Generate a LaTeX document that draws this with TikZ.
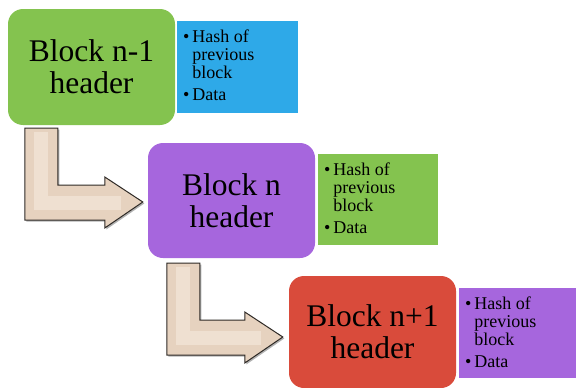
\documentclass[tikz,border=0pt]{standalone}
\usepackage{fontspec}
\setmainfont{Liberation Serif}
\usetikzlibrary{calc}
\definecolor{cgreen}{HTML}{84C34F}
\definecolor{cblue}{HTML}{2EA9E8}
\definecolor{cpurple}{HTML}{A666DD}
\definecolor{cred}{HTML}{D94B3B}
\definecolor{cbeige}{HTML}{E6D2BF}
\definecolor{clight}{HTML}{F3E6D9}
\definecolor{cedge}{HTML}{2E2A26}
\newcommand{\infotext}{\textbullet\,Hash of\\\phantom{\textbullet\,}previous\\\phantom{\textbullet\,}block\\[4pt]\textbullet\,Data}
\tikzset{
  blockbox/.style={rectangle, rounded corners=15pt, minimum width=167pt, inner sep=0pt,
    font=\fontsize{31.5}{32}\selectfont, align=center, text=black},
  infobox/.style={rectangle, inner sep=0pt},
  infotxt/.style={anchor=north west, inner sep=0pt, align=left,
    font=\fontsize{18}{18}\selectfont, text=black},
  arrowshape/.style={fill=cbeige, draw=cedge, line width=1pt, line join=miter},
  arrowlight/.style={draw=clight, line width=14pt, line join=miter, opacity=0.7},
  arrowshadow/.style={fill=black!30, draw=none}
}
\begin{document}
\begin{tikzpicture}[x=1pt,y=-1pt]
\useasboundingbox (0,0) rectangle (576,388);
% blocks
\node[blockbox, fill=cgreen, minimum height=116pt] (b1) at (91.5,67) {Block n-1\\header};
\node[infobox, fill=cblue, minimum width=121pt, minimum height=92pt] (i1) at (237.5,67) {};
\node[blockbox, fill=cpurple, minimum height=115pt] (b2) at (231.5,200.5) {Block n\\header};
\node[infobox, fill=cgreen, minimum width=120pt, minimum height=91pt] (i2) at (378,199.5) {};
\node[blockbox, fill=cred, minimum height=112pt] (b3) at (372.5,332) {Block n+1\\header};
\node[infobox, fill=cpurple, minimum width=117pt, minimum height=90pt] (i3) at (517.5,333) {};
% info texts
\node[infotxt] (t1) at ($(i1.north west)+(6,9)$) {\infotext};
\node[infotxt] (t2) at ($(i2.north west)+(6,9)$) {\infotext};
\node[infotxt] (t3) at ($(i3.north west)+(6,9)$) {\infotext};
% arrow anchors
\coordinate (a1s) at ($(b1.south west)+(17,3)$);
\coordinate (a1t) at ($(b2.west)+(-5,1.5)$);
\coordinate (a2s) at ($(b2.south west)+(19,5)$);
\coordinate (a2t) at ($(b3.west)+(-6,5)$);
% arrows
\foreach \s/\t in {a1s/a1t, a2s/a2t}{
  \fill[arrowshadow] let \p1=(\s), \p2=(\t) in
    (\x1+1.5pt,\y1-1.5pt) -- (\x1+34.5pt,\y1-1.5pt) -- (\x1+34.5pt,\y2+15.5pt) -- (\x2-36.5pt,\y2+15.5pt)
    -- (\x2-36.5pt,\y2+23.5pt) -- (\x2+1.5pt,\y2-1.5pt) -- (\x2-36.5pt,\y2-27.5pt) -- (\x2-36.5pt,\y2-19.5pt)
    -- (\x1+1.5pt,\y2-19.5pt) -- cycle;
  \draw[arrowshape] let \p1=(\s), \p2=(\t) in
    (\x1,\y1) -- (\x1+33pt,\y1) -- (\x1+33pt,\y2+17pt) -- (\x2-38pt,\y2+17pt)
    -- (\x2-38pt,\y2+25pt) -- (\x2,\y2) -- (\x2-38pt,\y2-26pt) -- (\x2-38pt,\y2-18pt)
    -- (\x1,\y2-18pt) -- cycle;
  \draw[arrowlight] let \p1=(\s), \p2=(\t) in
    (\x1+16.5pt,\y1-4pt) -- (\x1+16.5pt,\y2-0.5pt) -- (\x2-22pt,\y2-0.5pt);
}
\end{tikzpicture}
\end{document}
